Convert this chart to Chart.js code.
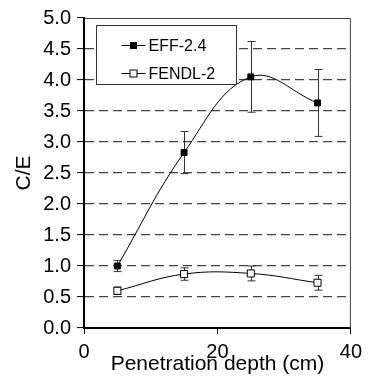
<!DOCTYPE html>
<html>
<head>
<meta charset="utf-8">
<script src="https://cdn.jsdelivr.net/npm/chart.js@4"></script>
<style>
    body { margin: 0; background: #fff; }
    canvas { display: block; }
</style>
</head>
<body>
<canvas id="ceChart" width="368" height="384"></canvas>
<script>
    // data
    const depths = [5, 15, 25, 35];
    const effValues = [1.0, 2.83, 4.05, 3.63];
    const effErrors = [0.09, 0.34, 0.57, 0.54];
    const fendlValues = [0.6, 0.87, 0.88, 0.73];
    const fendlErrors = [0.06, 0.1, 0.12, 0.12];
    const seriesNames = ['EFF-2.4', 'FENDL-2'];
    const xTicks = [0, 20, 40];

    const fontFamily = '"Liberation Sans", Arial, sans-serif';

    function toPoints(values) {
        return depths.map((d, i) => ({ x: d, y: values[i] }));
    }

    // vertical error bars with caps
    const errorBars = {
        id: 'errorBars',
        beforeDatasetsDraw(chart) {
            const ctx = chart.ctx;
            const xScale = chart.scales.x;
            const yScale = chart.scales.y;
            ctx.save();
            ctx.strokeStyle = '#333';
            ctx.lineWidth = 1;
            chart.data.datasets.forEach((ds) => {
                ds.data.forEach((p, i) => {
                    const x = Math.round(xScale.getPixelForValue(p.x)) + 0.5;
                    const yTop = yScale.getPixelForValue(p.y + ds.errors[i]);
                    const yBot = yScale.getPixelForValue(p.y - ds.errors[i]);
                    ctx.beginPath();
                    ctx.moveTo(x, yTop);
                    ctx.lineTo(x, yBot);
                    ctx.moveTo(x - 4, yTop);
                    ctx.lineTo(x + 4, yTop);
                    ctx.moveTo(x - 4, yBot);
                    ctx.lineTo(x + 4, yBot);
                    ctx.stroke();
                });
            });
            ctx.restore();
        }
    };

    // frame around plot + boxed legend inside it
    const frameAndLegend = {
        id: 'frameAndLegend',
        afterDatasetsDraw(chart) {
            const ctx = chart.ctx;
            const area = chart.chartArea;
            ctx.save();
            ctx.strokeStyle = '#444';
            ctx.lineWidth = 1;
            ctx.beginPath();
            ctx.moveTo(area.left, area.top + 0.5);
            ctx.lineTo(area.right - 0.5, area.top + 0.5);
            ctx.lineTo(area.right - 0.5, area.bottom);
            ctx.stroke();

            // legend box
            const bx = area.left + 12.5, by = area.top + 7.5, bw = 140, bh = 59;
            ctx.fillStyle = '#fff';
            ctx.fillRect(bx, by, bw, bh);
            ctx.strokeStyle = '#333';
            ctx.strokeRect(bx, by, bw, bh);

            ctx.font = '16px ' + fontFamily;
            ctx.textBaseline = 'middle';
            chart.data.datasets.forEach((ds, i) => {
                const cy = by + 20 + i * 28;
                ctx.strokeStyle = '#000';
                ctx.beginPath();
                ctx.moveTo(bx + 25, cy);
                ctx.lineTo(bx + 49, cy);
                ctx.stroke();
                const s = i === 0 ? 3 : 3.5;
                ctx.fillStyle = i === 0 ? '#000' : '#fff';
                ctx.fillRect(bx + 37 - s, cy - s, 2 * s, 2 * s);
                ctx.strokeRect(bx + 37 - s, cy - s, 2 * s, 2 * s);
                ctx.fillStyle = '#000';
                ctx.fillText(ds.label, bx + 52, cy + 1);
            });
            ctx.restore();
        }
    };

    const ceData = {
        datasets: [{
            label: seriesNames[0],
            data: toPoints(effValues),
            errors: effErrors,
            borderColor: '#000',
            borderWidth: 1,
            backgroundColor: '#000',
            pointStyle: 'rect',
            pointRadius: 4.2,
            pointBorderWidth: 1,
            tension: 0.4,
            showLine: true
        }, {
            label: seriesNames[1],
            data: toPoints(fendlValues),
            errors: fendlErrors,
            borderColor: '#000',
            borderWidth: 1,
            backgroundColor: '#fff',
            pointStyle: 'rect',
            pointRadius: 5,
            pointBorderWidth: 1,
            tension: 0.4,
            showLine: true
        }]
    };

    const ceConfig = {
        type: 'scatter',
        data: ceData,
        options: {
            responsive: false,
            animation: false,
            layout: {
                padding: { top: 13, right: 15, left: 0, bottom: 0 }
            },
            plugins: {
                legend: { display: false },
                tooltip: { enabled: false }
            },
            scales: {
                x: {
                    type: 'linear',
                    min: 0,
                    max: 40,
                    afterBuildTicks: (scale) => {
                        scale.ticks = xTicks.map(v => ({ value: v }));
                    },
                    afterFit: (scale) => { scale.height = 56; },
                    grid: {
                        drawOnChartArea: false,
                        drawTicks: true,
                        tickLength: 6,
                        tickColor: '#000',
                        color: '#000'
                    },
                    border: { display: true, color: '#000', width: 2 },
                    ticks: {
                        color: '#000',
                        padding: 6,
                        font: { family: fontFamily, size: 20 }
                    },
                    title: {
                        display: true,
                        text: 'Penetration depth (cm)',
                        color: '#000',
                        font: { family: fontFamily, size: 21 },
                        padding: { top: 0, bottom: 7 }
                    }
                },
                y: {
                    min: 0,
                    max: 5,
                    afterFit: (scale) => { scale.width = 84; },
                    grid: {
                        color: (ctx) => (ctx.tick && (ctx.tick.value === 0 || ctx.tick.value === 5)) ? 'rgba(0,0,0,0)' : '#444',
                        lineWidth: 1.2,
                        tickLength: 7,
                        tickColor: '#000',
                        tickWidth: 1
                    },
                    border: { display: true, color: '#000', width: 2, dash: [9, 5] },
                    ticks: {
                        stepSize: 0.5,
                        color: '#000',
                        padding: 6,
                        font: { family: fontFamily, size: 20 },
                        callback: (v) => v.toFixed(1)
                    },
                    title: {
                        display: true,
                        text: 'C/E',
                        color: '#000',
                        font: { family: fontFamily, size: 21 },
                        padding: { top: 12, bottom: 0 }
                    }
                }
            }
        },
        plugins: [errorBars, frameAndLegend]
    };

    const myChart = new Chart(document.getElementById('ceChart'), ceConfig);
</script>
</body>
</html>
